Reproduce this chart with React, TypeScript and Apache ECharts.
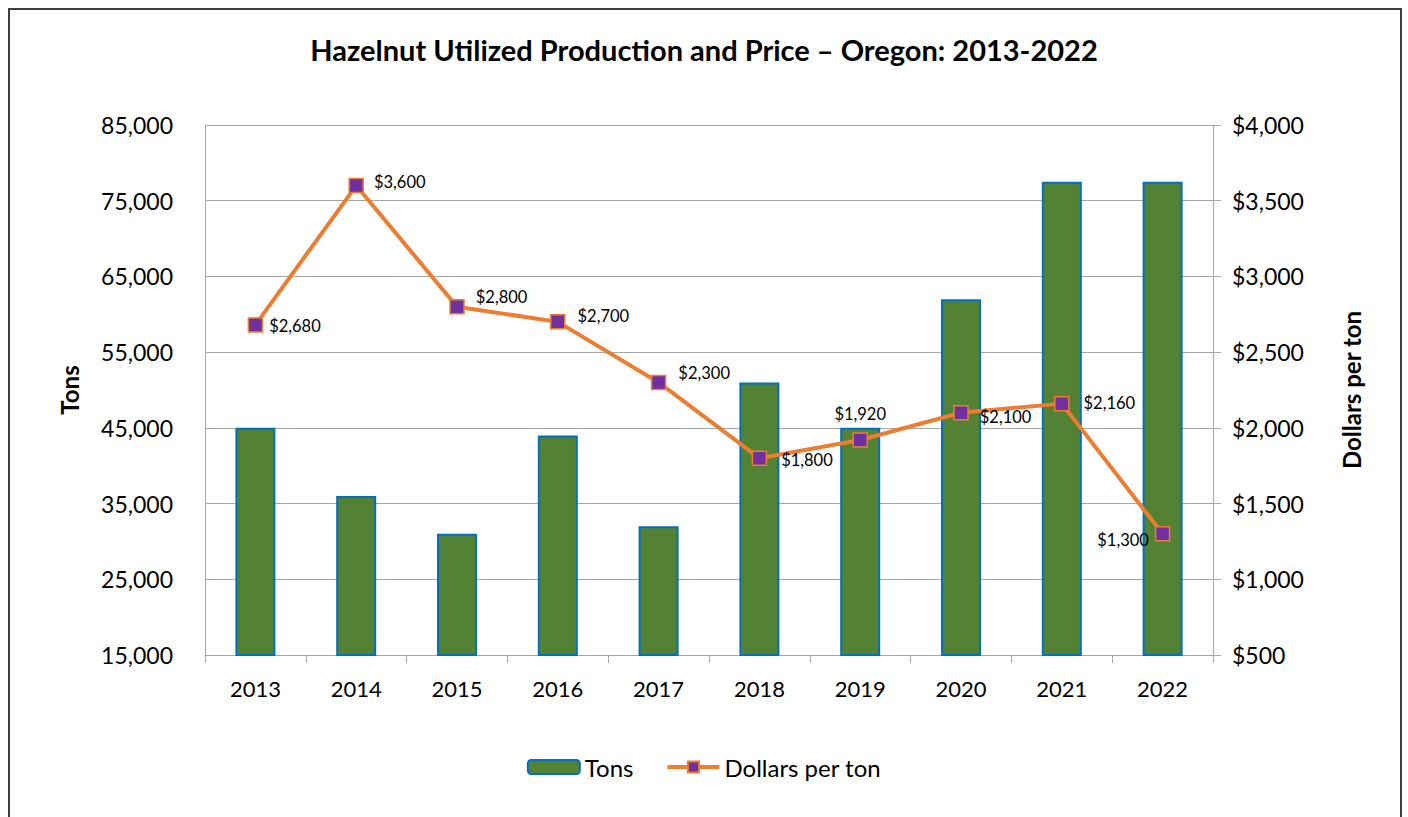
import React, { useEffect, useRef } from "react";
import * as echarts from "echarts";

const years = ["2013", "2014", "2015", "2016", "2017", "2018", "2019", "2020", "2021", "2022"];
const tons = [45000, 36000, 31000, 44000, 32000, 51000, 45000, 62000, 77500, 77500];
const dollarsPerTon = [2680, 3600, 2800, 2700, 2300, 1800, 1920, 2100, 2160, 1300];
// label placement per point: [position, dx, dy]
const labelPlacement: [string, number, number][] = [
  ["right", 0, 1],
  ["right", 4, -4],
  ["right", 5, -10],
  ["right", 6, -6],
  ["right", 6, -9],
  ["right", 8, 2],
  ["top", 0, -4],
  ["right", 5, 4],
  ["right", 8, -1],
  ["left", 0, 6],
];

const FONT = "Lato";

export default function App() {
  const ref = useRef<HTMLDivElement>(null);
  useEffect(() => {
    document.body.style.margin = "0";
    const chart = echarts.init(ref.current!, null, { renderer: "svg" });
    const fmtTons = (v: number) => v.toLocaleString("en-US");
    const fmtDollar = (v: number) => "$" + v.toLocaleString("en-US");
    chart.setOption({
      animation: false,
      textStyle: { fontFamily: FONT, color: "#000" },
      title: {
        text: "Hazelnut Utilized Production and Price \u2013 Oregon: 2013-2022",
        left: "center",
        top: 30,
        textStyle: { fontFamily: FONT, fontSize: 29, fontWeight: "bold", color: "#000" },
      },
      graphic: [
        {
          type: "rect",
          shape: { x: 9, y: 9, width: 1392, height: 830 },
          style: { fill: "none", stroke: "#404040", lineWidth: 2 },
          silent: true,
        },
      ],
      legend: {
        bottom: 33,
        left: "center",
        itemWidth: 52,
        itemHeight: 14,
        itemGap: 32,
        textStyle: { fontFamily: FONT, fontSize: 24, color: "#000" },
        data: [
          { name: "Tons" },
          { name: "Dollars per ton", lineStyle: { width: 4, color: "#ED7D31" } },
        ],
      },
      grid: { left: 205, right: 195, top: 125, bottom: 162 },
      xAxis: {
        type: "category",
        data: years,
        boundaryGap: true,
        axisLine: { lineStyle: { color: "#A6A6A6", width: 1 } },
        axisTick: { show: true, length: 8, lineStyle: { color: "#A6A6A6" } },
        axisLabel: { fontFamily: FONT, fontSize: 22, color: "#000", margin: 22 },
      },
      yAxis: [
        {
          type: "value",
          min: 15000,
          max: 85000,
          interval: 10000,
          name: "Tons",
          nameLocation: "middle",
          nameGap: 124,
          nameTextStyle: { fontFamily: FONT, fontSize: 24, fontWeight: "bold", color: "#000" },
          axisLine: { show: true, lineStyle: { color: "#A6A6A6" } },
          axisTick: { show: false },
          axisLabel: { fontFamily: FONT, fontSize: 23, color: "#000", margin: 32, formatter: fmtTons },
          splitLine: { lineStyle: { color: "#A6A6A6", width: 1 } },
        },
        {
          type: "value",
          min: 500,
          max: 4000,
          interval: 500,
          name: "Dollars per ton",
          nameLocation: "middle",
          nameGap: 126,
          nameTextStyle: { fontFamily: FONT, fontSize: 24, fontWeight: "bold", color: "#000" },
          axisLine: { show: true, lineStyle: { color: "#A6A6A6" } },
          axisTick: { show: true, inside: false, length: 8, lineStyle: { color: "#A6A6A6" } },
          axisLabel: { fontFamily: FONT, fontSize: 23, color: "#000", margin: 19, formatter: fmtDollar },
          splitLine: { show: false },
        },
      ],
      series: [
        {
          name: "Tons",
          type: "bar",
          data: tons,
          barWidth: 40,
          itemStyle: { color: "#548235", borderColor: "#0070C0", borderWidth: 2 },
        },
        {
          name: "Dollars per ton",
          type: "line",
          yAxisIndex: 1,
          symbol: "rect",
          symbolSize: 14,
          lineStyle: { color: "#ED7D31", width: 4 },
          itemStyle: { color: "#7030A0", borderColor: "#ED7D31", borderWidth: 1.5 },
          data: dollarsPerTon.map((v, i) => ({
            value: v,
            label: {
              show: true,
              position: labelPlacement[i][0],
              offset: [labelPlacement[i][1], labelPlacement[i][2]],
              distance: 6,
              formatter: fmtDollar(v),
              fontFamily: FONT,
              fontSize: 16.5,
              color: "#000",
            },
          })),
          z: 5,
        },
      ],
    });
    return () => chart.dispose();
  }, []);
  return <div ref={ref} style={{ width: 1408, height: 817 }} />;
}
